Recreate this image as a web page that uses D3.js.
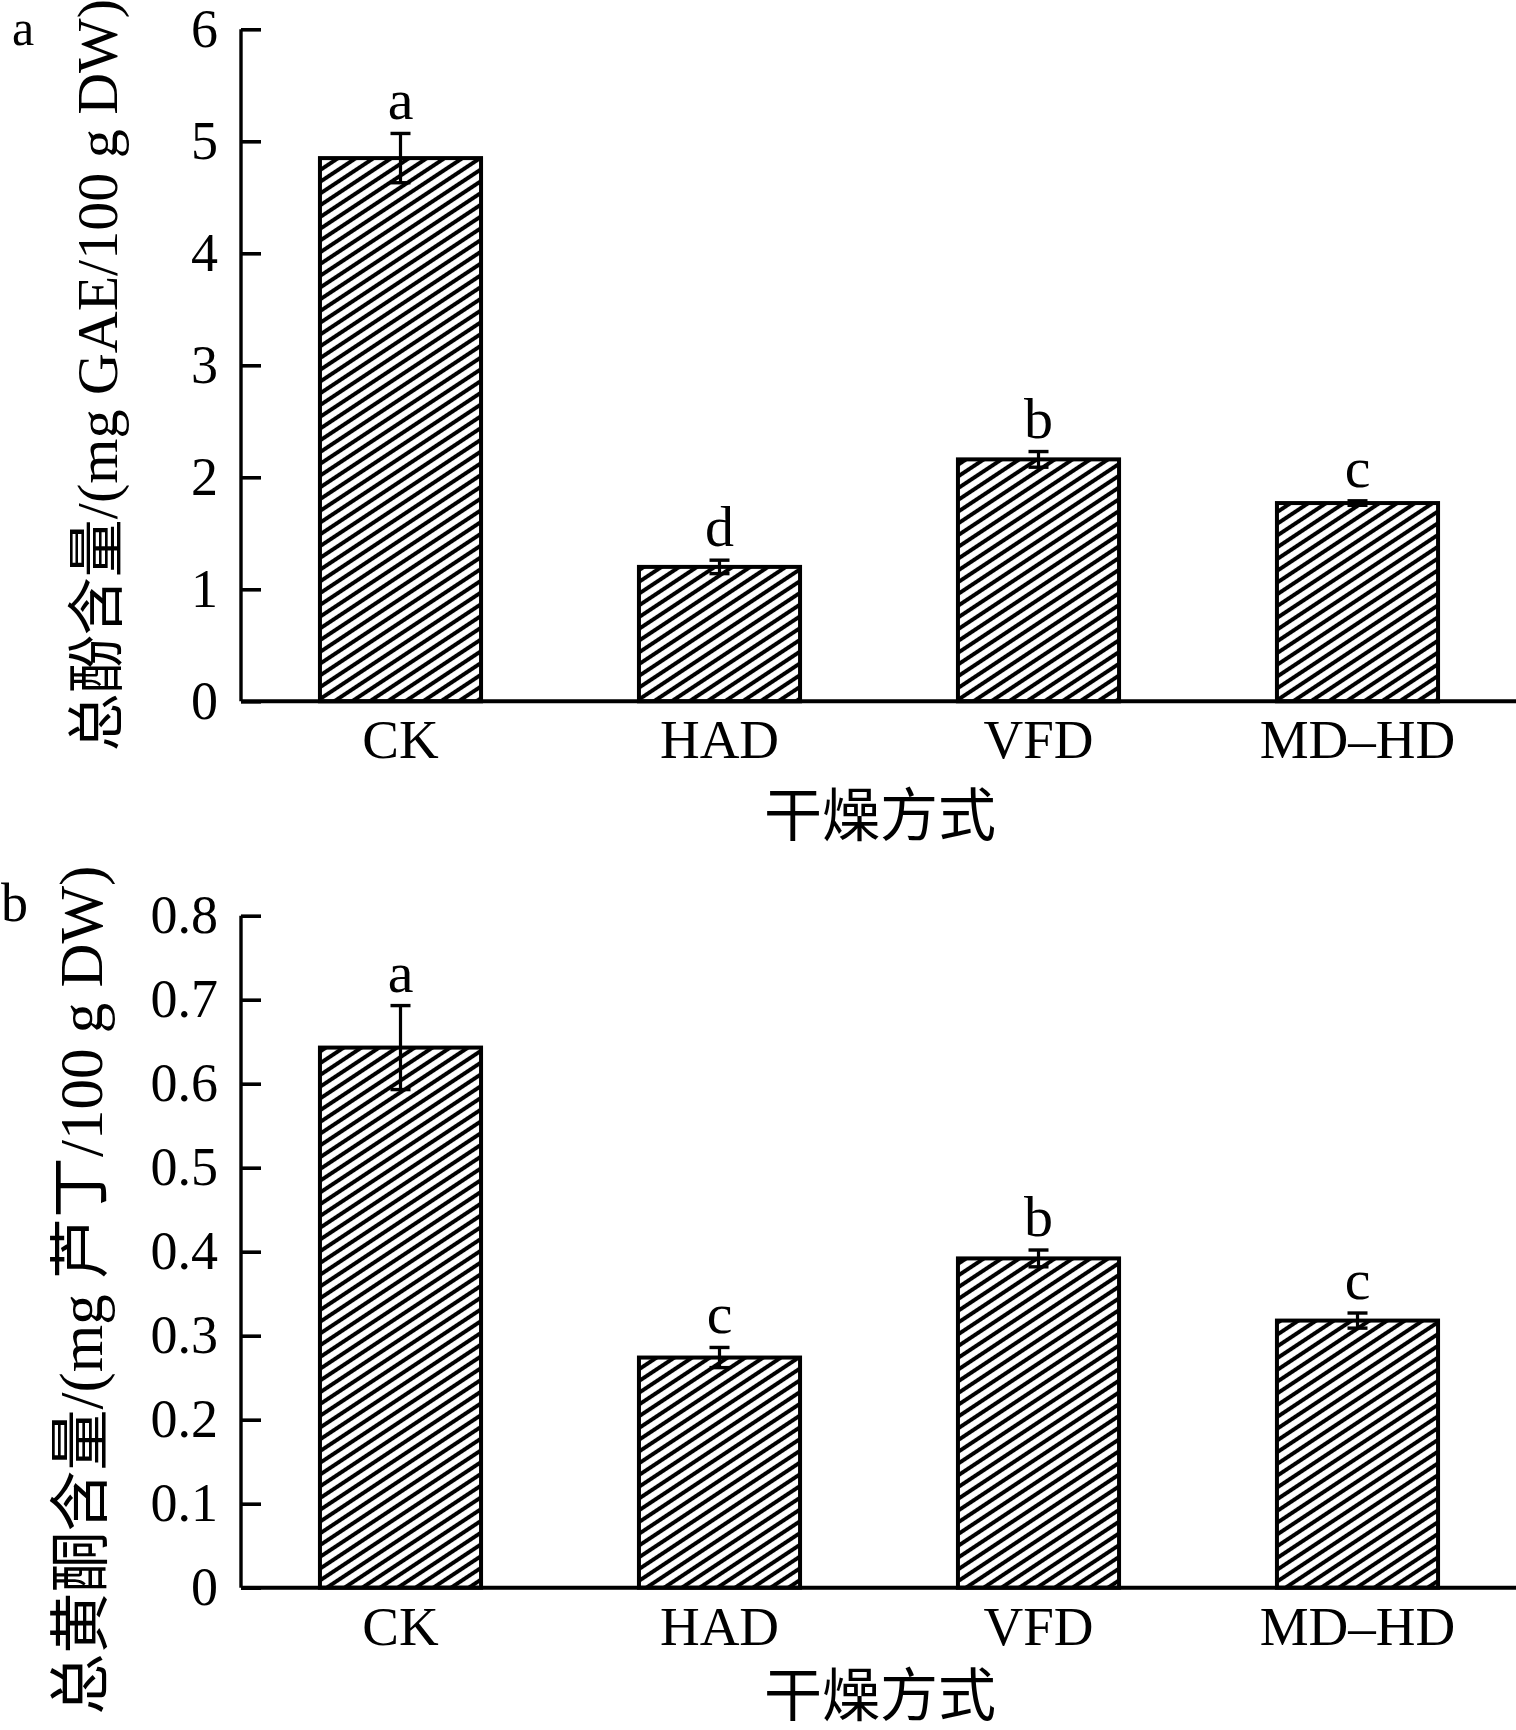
<!DOCTYPE html>
<html>
<head>
<meta charset="utf-8">
<script src="https://cdn.jsdelivr.net/npm/d3@7"></script>
<style>
  html, body { margin: 0; padding: 0; background: #fff; }
  svg { display: block; }
  text { font-family: "Liberation Serif", "Noto Sans CJK SC", serif; fill: #000; }
</style>
</head>
<body>
<svg id="chart" width="1516" height="1730"></svg>
<script>
// ---------- data ----------
const categories = ["CK", "HAD", "VFD", "MD\u2013HD"];

const phenolMeans = [4.85, 1.20, 2.16, 1.77];
const phenolErrors = [0.22, 0.06, 0.07, 0.02];
const phenolLetters = ["a", "d", "b", "c"];
const phenolTicks = [0, 1, 2, 3, 4, 5, 6];
const phenolTickLabels = ["0", "1", "2", "3", "4", "5", "6"];

const flavMeans = [0.643, 0.274, 0.392, 0.318];
const flavErrors = [0.050, 0.012, 0.010, 0.009];
const flavLetters = ["a", "c", "b", "c"];
const flavTicks = [0, 0.1, 0.2, 0.3, 0.4, 0.5, 0.6, 0.7, 0.8];
const flavTickLabels = ["0", "0.1", "0.2", "0.3", "0.4", "0.5", "0.6", "0.7", "0.8"];

const xTitle = "干燥方式";
const yTitleA = [["总酚含量", true], ["/(mg GAE/100 g DW)", false]];
const yTitleB = [["总黄酮含量", true], ["/(mg ", false], ["芦丁", true], ["/100 g DW)", false]];
const panelLabels = ["a", "b"];

// ---------- drawing ----------
const svg = d3.select("#chart");

const defs = svg.append("defs");
const P = 9.8;
const pat = defs.append("pattern")
  .attr("id", "hatch")
  .attr("patternUnits", "userSpaceOnUse")
  .attr("width", P).attr("height", P)
  .attr("patternTransform", "rotate(-33.5)");
pat.append("rect").attr("width", P).attr("height", P).attr("fill", "#fff");
pat.append("line").attr("x1", -1).attr("x2", P + 1).attr("y1", P / 2).attr("y2", P / 2)
  .attr("stroke", "#000").attr("stroke-width", 4.0);

const x = d3.scaleBand()
  .domain(categories)
  .range([241, 1517])
  .paddingInner(0.495)
  .paddingOuter(0.2475);

function panel(opts) {
  const g = svg.append("g");
  const y = d3.scaleLinear().domain(opts.domain).range(opts.range);
  const y0 = y(0);

  // bars
  g.selectAll("rect.bar").data(opts.means).join("rect")
    .attr("class", "bar")
    .attr("x", (d, i) => x(categories[i]))
    .attr("width", x.bandwidth())
    .attr("y", d => y(d))
    .attr("height", d => y0 - y(d))
    .attr("fill", "url(#hatch)")
    .attr("stroke", "#000")
    .attr("stroke-width", 4);

  // error bars
  const cap = 10;
  opts.means.forEach((m, i) => {
    const cx = x(categories[i]) + x.bandwidth() / 2;
    const top = y(m + opts.errors[i]);
    const bot = y(m - opts.errors[i]);
    g.append("line").attr("x1", cx).attr("x2", cx).attr("y1", top).attr("y2", bot)
      .attr("stroke", "#000").attr("stroke-width", 3.2);
    [top, bot].forEach(yy => {
      g.append("line").attr("x1", cx - cap).attr("x2", cx + cap).attr("y1", yy).attr("y2", yy)
        .attr("stroke", "#000").attr("stroke-width", 3.4);
    });
    g.append("text")
      .attr("x", cx).attr("y", top - 14)
      .attr("text-anchor", "middle")
      .attr("font-size", 58)
      .text(opts.letters[i]);
  });

  // y axis (inward ticks)
  const yAxis = d3.axisRight(y)
    .tickValues(opts.ticks)
    .tickSize(20)
    .tickFormat((d, i) => opts.tickLabels[i]);
  const ya = g.append("g").attr("transform", "translate(241,0)").call(yAxis);
  ya.select(".domain").attr("d", `M0,${y.range()[1]}V${y0}`).attr("stroke-width", 3.4).attr("stroke", "#000");
  ya.selectAll(".tick line").attr("stroke-width", 3.6).attr("stroke", "#000");
  ya.selectAll(".tick text")
    .attr("x", -23).attr("dy", null).attr("y", 17)
    .attr("text-anchor", "end")
    .attr("font-size", 54)
    .attr("font-family", "Liberation Serif");

  // x axis
  const xAxis = d3.axisBottom(x).tickSize(0);
  const xa = g.append("g").attr("transform", `translate(0,${y0})`).call(xAxis);
  xa.select(".domain").attr("d", "M241,0H1516").attr("stroke-width", 4).attr("stroke", "#000");
  xa.selectAll(".tick text")
    .attr("y", 57).attr("dy", null)
    .attr("font-size", 55)
    .attr("font-family", "Liberation Serif");

  // x title
  g.append("text")
    .attr("x", 880).attr("y", opts.xTitleY)
    .attr("text-anchor", "middle")
    .attr("font-size", 58)
    .attr("font-family", "Noto Sans CJK SC")
    .text(xTitle);

  // y title
  const yt = g.append("text")
    .attr("transform", `translate(${opts.yTitleX},${opts.yTitleCY}) rotate(-90)`)
    .attr("text-anchor", "middle")
    .attr("font-size", opts.yTitleSize);
  opts.yTitle.forEach(([s, cjk]) => {
    yt.append("tspan")
      .attr("font-family", cjk ? "Noto Sans CJK SC" : "Liberation Serif")
      .text(s);
  });

  // panel letter
  g.append("text")
    .attr("x", opts.labelX).attr("y", opts.labelY)
    .attr("font-size", opts.labelSize)
    .text(opts.label);
}

panel({
  domain: [0, 6], range: [701.3, 29.3],
  means: phenolMeans, errors: phenolErrors, letters: phenolLetters,
  ticks: phenolTicks, tickLabels: phenolTickLabels,
  xTitleY: 836, yTitle: yTitleA, yTitleX: 117, yTitleCY: 375, yTitleSize: 58,
  label: panelLabels[0], labelX: 12, labelY: 45, labelSize: 50
});

panel({
  domain: [0, 0.8], range: [1587.7, 915.7],
  means: flavMeans, errors: flavErrors, letters: flavLetters,
  ticks: flavTicks, tickLabels: flavTickLabels,
  xTitleY: 1716, yTitle: yTitleB, yTitleX: 102, yTitleCY: 1290, yTitleSize: 61,
  label: panelLabels[1], labelX: 1, labelY: 921, labelSize: 54
});
</script>
</body>
</html>
